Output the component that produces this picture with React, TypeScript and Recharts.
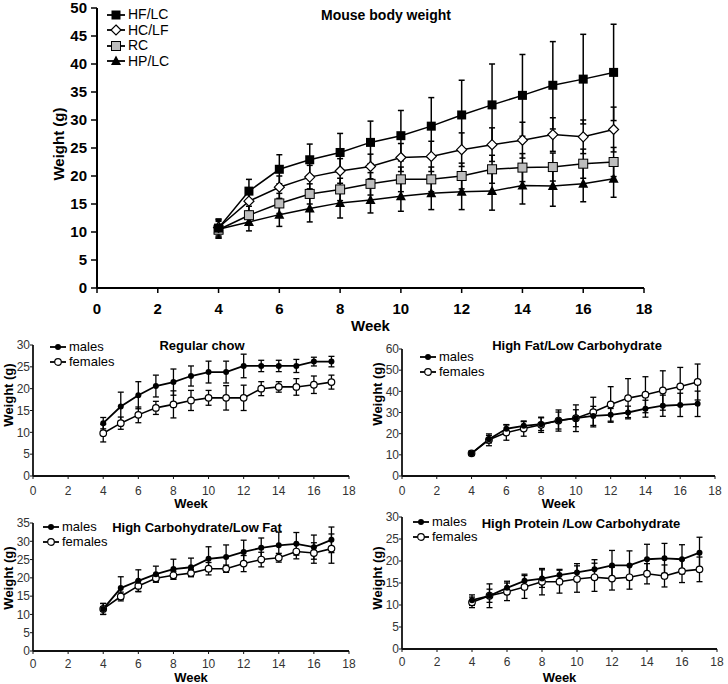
import { ErrorBar, Line, LineChart, XAxis, YAxis } from "recharts";

const FONT = '"Liberation Sans", Arial, sans-serif';

const WEEKS = [4, 5, 6, 7, 8, 9, 10, 11, 12, 13, 14, 15, 16, 17];
const X_TICKS = [0, 2, 4, 6, 8, 10, 12, 14, 16, 18];

// top chart: all mice per diet
const hfLc = [10.7, 17.3, 21.2, 22.9, 24.2, 26.0, 27.2, 28.9, 30.9, 32.7, 34.4, 36.2, 37.3, 38.5];
const hfLcSd = [1.6, 2.1, 2.6, 2.8, 3.4, 3.8, 4.5, 5.1, 6.2, 7.3, 7.3, 7.8, 8.0, 8.6];
const hcLf = [10.8, 15.5, 18.0, 19.8, 20.9, 21.7, 23.3, 23.5, 24.7, 25.6, 26.4, 27.4, 27.0, 28.3];
const hcLfSd = [1.5, 1.8, 2.0, 2.1, 2.2, 2.2, 2.5, 2.7, 3.0, 3.0, 3.2, 3.0, 3.0, 4.0];
const rc = [10.4, 13.0, 15.1, 16.8, 17.6, 18.6, 19.4, 19.4, 20.0, 21.2, 21.5, 21.6, 22.2, 22.5];
const rcSd = [1.5, 1.6, 1.8, 1.8, 2.0, 2.0, 2.2, 2.2, 2.3, 2.5, 2.5, 2.5, 2.6, 2.6];
const hpLc = [10.5, 11.8, 13.1, 14.2, 15.2, 15.7, 16.4, 16.9, 17.2, 17.3, 18.3, 18.2, 18.6, 19.5];
const hpLcSd = [1.6, 1.6, 2.1, 2.4, 2.7, 2.3, 2.7, 2.9, 3.2, 3.4, 3.3, 3.6, 3.2, 3.3];

// regular chow by sex
const rcMales = [12.1, 15.9, 18.5, 20.6, 21.5, 22.9, 23.8, 23.8, 25.2, 25.2, 25.2, 25.2, 26.2, 26.2];
const rcMalesSd = [1.3, 3.3, 3.1, 2.5, 3.0, 2.3, 2.5, 2.5, 2.7, 1.3, 1.3, 1.5, 1.0, 1.2];
const rcFemales = [9.8, 12.1, 14.0, 15.6, 16.4, 17.3, 17.9, 17.9, 17.9, 20.0, 20.4, 20.4, 20.9, 21.5];
const rcFemalesSd = [2.0, 1.4, 1.8, 1.5, 3.1, 2.3, 1.7, 2.8, 2.9, 1.6, 1.2, 1.9, 2.0, 1.6];

// high fat / low carbohydrate by sex
const hfMales = [10.7, 17.4, 22.3, 23.7, 24.5, 26.2, 27.3, 28.4, 28.9, 30.0, 31.8, 33.2, 33.6, 34.1];
const hfMalesSd = [1.0, 1.8, 2.0, 2.0, 3.0, 4.0, 4.0, 4.5, 3.0, 3.0, 4.0, 5.0, 5.5, 6.0];
const hfFemales = [10.7, 17.1, 20.5, 22.4, 24.2, 26.2, 27.3, 30.2, 33.8, 36.8, 38.4, 40.4, 42.3, 44.4];
const hfFemalesSd = [1.0, 2.8, 3.6, 3.6, 3.6, 5.0, 6.3, 7.0, 8.4, 9.2, 8.5, 9.3, 9.0, 8.5];

// high carbohydrate / low fat by sex
const hcMales = [11.5, 17.2, 19.2, 21.0, 22.4, 22.9, 25.2, 25.7, 27.1, 28.2, 28.9, 29.3, 28.4, 30.4];
const hcMalesSd = [1.5, 3.1, 3.0, 2.2, 2.7, 2.5, 3.3, 3.3, 3.2, 2.7, 3.6, 3.1, 3.3, 3.5];
const hcFemales = [11.5, 14.9, 17.8, 19.9, 20.7, 21.3, 22.5, 22.5, 23.9, 25.0, 25.5, 27.2, 26.8, 28.0];
const hcFemalesSd = [1.5, 1.2, 1.5, 1.0, 1.1, 1.0, 1.7, 1.0, 2.2, 2.0, 1.2, 2.0, 2.8, 4.0];

// high protein / low carbohydrate by sex
const hpMales = [11.1, 12.1, 13.9, 15.5, 16.0, 16.8, 17.4, 18.1, 19.0, 19.0, 20.4, 20.6, 20.4, 21.9];
const hpMalesSd = [1.2, 2.7, 1.5, 1.5, 2.0, 1.3, 2.0, 2.2, 3.4, 3.3, 3.4, 3.4, 3.3, 3.5];
const hpFemales = [10.6, 12.1, 13.0, 14.1, 15.3, 15.3, 15.9, 16.3, 16.0, 16.3, 17.1, 16.6, 17.7, 18.1];
const hpFemalesSd = [1.2, 1.5, 2.0, 2.6, 3.0, 2.6, 3.0, 3.2, 2.6, 2.7, 2.3, 2.5, 2.6, 2.8];

const mainData = WEEKS.map((week, i) => ({
  week,
  hf: hfLc[i],
  hfSd: hfLcSd[i],
  hc: hcLf[i],
  hcSd: hcLfSd[i],
  rc: rc[i],
  rcSd: rcSd[i],
  hp: hpLc[i],
  hpSd: hpLcSd[i],
}));

const sexData = (m: number[], mSd: number[], f: number[], fSd: number[]) =>
  WEEKS.map((week, i) => ({ week, m: m[i], mSd: mSd[i], f: f[i], fSd: fSd[i] }));

type Shape = "square" | "diamond" | "gray" | "triangle" | "dot" | "ring";

function marker(shape: Shape, cx: number, cy: number, key?: any) {
  switch (shape) {
    case "square":
      return <rect key={key} x={cx - 4.5} y={cy - 4.5} width={9} height={9} fill="#000" />;
    case "gray":
      return (
        <rect key={key} x={cx - 4.5} y={cy - 4.5} width={9} height={9} fill="#bdbdbd" stroke="#000" strokeWidth={1} />
      );
    case "diamond":
      return (
        <polygon
          key={key}
          points={`${cx},${cy - 5} ${cx + 5},${cy} ${cx},${cy + 5} ${cx - 5},${cy}`}
          fill="#fff"
          stroke="#000"
          strokeWidth={1.2}
        />
      );
    case "triangle":
      return (
        <polygon key={key} points={`${cx},${cy - 5.5} ${cx + 5},${cy + 4} ${cx - 5},${cy + 4}`} fill="#000" />
      );
    case "dot":
      return <circle key={key} cx={cx} cy={cy} r={3} fill="#000" />;
    default:
      return <circle key={key} cx={cx} cy={cy} r={3.3} fill="#fff" stroke="#000" strokeWidth={1.2} />;
  }
}

const dotOf = (shape: Shape) => (p: any) => marker(shape, p.cx, p.cy, p.index);

function LegendBox({
  x,
  y,
  rows,
  fontSize,
  lineW,
}: {
  x: number;
  y: number;
  rows: { label: string; shape: Shape }[];
  fontSize: number;
  lineW: number;
}) {
  const rowH = fontSize + 1.5;
  return (
    <div style={{ position: "absolute", left: x, top: y, fontFamily: FONT, fontSize, lineHeight: `${rowH}px` }}>
      {rows.map((r) => (
        <div key={r.label} style={{ display: "flex", alignItems: "center", height: rowH }}>
          <svg width={lineW} height={12} style={{ marginRight: 3 }}>
            <line x1={0} y1={6} x2={lineW} y2={6} stroke="#000" strokeWidth={1.8} />
            {marker(r.shape, lineW / 2, 6)}
          </svg>
          <span>{r.label}</span>
        </div>
      ))}
    </div>
  );
}

function Text({ x, y, size, bold, rotate, children }: any) {
  return (
    <div
      style={{
        position: "absolute",
        left: x,
        top: y,
        transform: `translate(-50%, -50%)${rotate ? " rotate(-90deg)" : ""}`,
        fontFamily: FONT,
        fontSize: size,
        fontWeight: bold ? 700 : 400,
        whiteSpace: "nowrap",
      }}
    >
      {children}
    </div>
  );
}

function SexPanel({
  left,
  top,
  height,
  margin,
  yWidth,
  yMax,
  yStep,
  xAxisH,
  xTickMargin,
  weekOffset,
  data,
}: any) {
  const yTicks: number[] = [];
  for (let v = 0; v <= yMax; v += yStep) yTicks.push(v);
  return (
    <div style={{ position: "absolute", left, top }}>
      <LineChart width={364} height={height} data={data} margin={margin}>
        <XAxis
          type="number"
          dataKey="week"
          domain={[0, 18]}
          ticks={X_TICKS}
          interval={0}
          height={xAxisH}
          axisLine={{ stroke: "#111", strokeWidth: 1.8 }}
          tickLine={{ stroke: "#111" }}
          tickSize={3}
          tickMargin={xTickMargin}
          tick={{ fill: "#333", fontSize: 12, fontFamily: FONT }}
          label={{
            value: "Week",
            position: "insideBottom",
            offset: weekOffset,
            style: { fill: "#000", fontSize: 13, fontWeight: 700, fontFamily: FONT },
          }}
        />
        <YAxis
          type="number"
          domain={[0, yMax]}
          ticks={yTicks}
          interval={0}
          width={yWidth}
          axisLine={{ stroke: "#111", strokeWidth: 1.8 }}
          tickLine={{ stroke: "#111" }}
          tickSize={3}
          tickMargin={0}
          tick={{ fill: "#333", fontSize: 12, fontFamily: FONT }}
        />
        <Line dataKey="f" stroke="#000" strokeWidth={1.6} dot={dotOf("ring")} isAnimationActive={false}>
          <ErrorBar dataKey="fSd" width={3} stroke="#000" strokeWidth={1.3} />
        </Line>
        <Line dataKey="m" stroke="#000" strokeWidth={1.8} dot={dotOf("dot")} isAnimationActive={false}>
          <ErrorBar dataKey="mSd" width={3} stroke="#000" strokeWidth={1.3} />
        </Line>
      </LineChart>
    </div>
  );
}

const sexRows: { label: string; shape: Shape }[] = [
  { label: "males", shape: "dot" },
  { label: "females", shape: "ring" },
];

export default function App() {
  return (
    <div style={{ position: "absolute", left: 0, top: 0, width: 728, height: 684, background: "#fff" }}>
      <div style={{ position: "absolute", left: 0, top: 0 }}>
        <LineChart width={728} height={340} data={mainData} margin={{ top: 8, right: 84, bottom: 0, left: 37 }}>
          <XAxis
            type="number"
            dataKey="week"
            domain={[0, 18]}
            ticks={X_TICKS}
            interval={0}
            height={52}
            axisLine={{ stroke: "#000", strokeWidth: 2 }}
            tickLine={{ stroke: "#000", strokeWidth: 1.5 }}
            tickSize={5}
            tickMargin={10}
            tick={{ fill: "#000", fontSize: 15, fontWeight: 700, fontFamily: FONT }}
            label={{
              value: "Week",
              position: "insideBottom",
              offset: 9,
              style: { fill: "#000", fontSize: 15, fontWeight: 700, fontFamily: FONT },
            }}
          />
          <YAxis
            type="number"
            domain={[0, 50]}
            ticks={[0, 5, 10, 15, 20, 25, 30, 35, 40, 45, 50]}
            interval={0}
            width={60}
            axisLine={{ stroke: "#000", strokeWidth: 2 }}
            tickLine={{ stroke: "#000", strokeWidth: 1.5 }}
            tickSize={6}
            tickMargin={4}
            tick={{ fill: "#000", fontSize: 15, fontWeight: 700, fontFamily: FONT }}
          />
          <Line dataKey="hp" stroke="#000" strokeWidth={1.5} dot={dotOf("triangle")} isAnimationActive={false}>
            <ErrorBar dataKey="hpSd" width={3} stroke="#000" strokeWidth={1.5} />
          </Line>
          <Line dataKey="rc" stroke="#000" strokeWidth={1.5} dot={dotOf("gray")} isAnimationActive={false}>
            <ErrorBar dataKey="rcSd" width={3} stroke="#000" strokeWidth={1.5} />
          </Line>
          <Line dataKey="hc" stroke="#000" strokeWidth={1.5} dot={dotOf("diamond")} isAnimationActive={false}>
            <ErrorBar dataKey="hcSd" width={3} stroke="#000" strokeWidth={1.5} />
          </Line>
          <Line dataKey="hf" stroke="#000" strokeWidth={1.5} dot={dotOf("square")} isAnimationActive={false}>
            <ErrorBar dataKey="hfSd" width={3} stroke="#000" strokeWidth={1.5} />
          </Line>
        </LineChart>
      </div>

      <SexPanel
        left={0}
        top={330}
        height={185}
        margin={{ top: 15, right: 15, bottom: 0, left: 0 }}
        yWidth={33}
        yMax={30}
        yStep={5}
        xAxisH={39}
        xTickMargin={7}
        weekOffset={7}
        data={sexData(rcMales, rcMalesSd, rcFemales, rcFemalesSd)}
      />
      <SexPanel
        left={364}
        top={330}
        height={185}
        margin={{ top: 19, right: 13, bottom: 0, left: 0 }}
        yWidth={38}
        yMax={60}
        yStep={10}
        xAxisH={39}
        xTickMargin={7}
        weekOffset={7}
        data={sexData(hfMales, hfMalesSd, hfFemales, hfFemalesSd)}
      />
      <SexPanel
        left={0}
        top={505}
        height={179}
        margin={{ top: 18, right: 15, bottom: 0, left: 0 }}
        yWidth={33}
        yMax={35}
        yStep={5}
        xAxisH={33}
        xTickMargin={5}
        weekOffset={2}
        data={sexData(hcMales, hcMalesSd, hcFemales, hcFemalesSd)}
      />
      <SexPanel
        left={364}
        top={500}
        height={184}
        margin={{ top: 17, right: 11, bottom: 0, left: 0 }}
        yWidth={38}
        yMax={30}
        yStep={5}
        xAxisH={35}
        xTickMargin={5}
        weekOffset={2}
        data={sexData(hpMales, hpMalesSd, hpFemales, hpFemalesSd)}
      />

      <Text x={386} y={15} size={14} bold>
        Mouse body weight
      </Text>
      <Text x={58} y={144} size={15} bold rotate>
        Weight (g)
      </Text>
      <LegendBox
        x={107}
        y={7}
        fontSize={14}
        lineW={18}
        rows={[
          { label: "HF/LC", shape: "square" },
          { label: "HC/LF", shape: "diamond" },
          { label: "RC", shape: "gray" },
          { label: "HP/LC", shape: "triangle" },
        ]}
      />

      <Text x={202} y={345} size={13} bold>
        Regular chow
      </Text>
      <Text x={8} y={395} size={13} bold rotate>
        Weight (g)
      </Text>
      <LegendBox x={50} y={340} fontSize={13} lineW={16} rows={sexRows} />

      <Text x={577} y={345} size={13} bold>
        High Fat/Low Carbohydrate
      </Text>
      <Text x={377} y={394} size={13} bold rotate>
        Weight (g)
      </Text>
      <LegendBox x={420} y={350} fontSize={13} lineW={16} rows={sexRows} />

      <Text x={197} y={527} size={13} bold>
        High Carbohydrate/Low Fat
      </Text>
      <Text x={8} y={578} size={13} bold rotate>
        Weight (g)
      </Text>
      <LegendBox x={43} y={520} fontSize={13} lineW={16} rows={sexRows} />

      <Text x={581} y={523} size={13} bold>
        High Protein /Low Carbohydrate
      </Text>
      <Text x={377} y={578} size={13} bold rotate>
        Weight (g)
      </Text>
      <LegendBox x={413} y={515} fontSize={13} lineW={16} rows={sexRows} />
    </div>
  );
}
